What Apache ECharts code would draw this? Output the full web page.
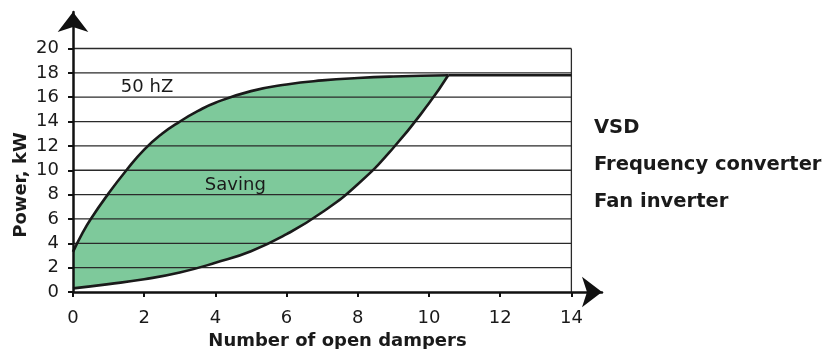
<!DOCTYPE html>
<html>
<head>
<meta charset="utf-8">
<script src="https://cdn.jsdelivr.net/npm/echarts@6/dist/echarts.min.js"></script>
<style>
  html, body { margin: 0; padding: 0; background: #ffffff; }
  #chart { width: 825px; height: 349px; }
</style>
</head>
<body>
<div id="chart"></div>
<script>
// Power drawn by the fan versus number of open dampers
// Fixed-speed (50 Hz) operation: upper curve
const fixedSpeedX = [0, 0.25, 0.5, 1, 1.5, 2, 2.5, 3, 3.5, 4, 5, 6, 7, 8, 9, 10.54];
const fixedSpeedY = [3.3, 4.75, 6.0, 8.1, 10.0, 11.7, 13.0, 14.0, 14.85, 15.55, 16.5, 17.05, 17.38, 17.58, 17.7, 17.8];
// Speed-controlled operation: lower curve
const variableSpeedX = [0, 1, 2, 3, 4, 5, 6, 7, 8, 9, 10, 10.54];
const variableSpeedY = [0.3, 0.65, 1.05, 1.6, 2.4, 3.35, 4.75, 6.55, 8.85, 11.85, 15.5, 17.8];
// Both run at full power once enough dampers are open
const fullPowerX = [10.54, 14];
const fullPowerY = [17.8, 17.8];

const xTicks = [0, 2, 4, 6, 8, 10, 12, 14];
const yTicks = [0, 2, 4, 6, 8, 10, 12, 14, 16, 18, 20];

const noteText = ['50 hZ', 'Saving'];
const noteX = [2.08, 4.56];
const noteY = [16.8, 8.8];

const sideLabels = ['VSD', 'Frequency converter', 'Fan inverter'];

const FONT = 'DejaVu Sans';
const INK = '#1a1a1a';
const GREEN = '#7ec99b';
const SMOOTH = 0.5;

const zip = (xs, ys) => xs.map((x, i) => [x, ys[i]]);
const xEnd = xTicks[xTicks.length - 1];
const yEnd = yTicks[yTicks.length - 1];

const chart = echarts.init(document.getElementById('chart'), null, { renderer: 'canvas' });

const axisCommon = {
  type: 'value',
  min: 0,
  z: 10,
  splitLine: { show: false },
  axisLine: {
    show: true,
    symbol: ['none', 'arrow'],
    symbolSize: [23, 20],
    lineStyle: { color: '#111', width: 2.5 }
  },
  axisTick: { show: true, length: 5, lineStyle: { color: '#111', width: 2 } },
  axisLabel: { fontFamily: FONT, fontSize: 18, color: INK }
};

const curveLine = { color: INK, width: 2.6 };

chart.setOption({
  animation: false,
  backgroundColor: '#ffffff',
  grid: { left: 73, right: 223, top: 12, bottom: 57, outerBoundsMode: 'none', containLabel: false },
  xAxis: Object.assign({}, axisCommon, {
    max: 14.86,
    axisTick: Object.assign({}, axisCommon.axisTick, { customValues: xTicks }),
    axisLabel: Object.assign({}, axisCommon.axisLabel, { customValues: xTicks, margin: 17 }),
    name: 'Number of open dampers',
    nameLocation: 'middle',
    nameGap: 33,
    nameTextStyle: { fontFamily: FONT, fontSize: 18, fontWeight: 'bold', color: INK }
  }),
  yAxis: Object.assign({}, axisCommon, {
    max: 23,
    axisTick: Object.assign({}, axisCommon.axisTick, { customValues: yTicks }),
    axisLabel: Object.assign({}, axisCommon.axisLabel, { customValues: yTicks, margin: 14 })
  }),
  graphic: [
    {
      type: 'text', x: 21, y: 185, rotation: Math.PI / 2,
      style: { text: 'Power, kW', font: 'bold 18px "' + FONT + '"', fill: INK, align: 'center', verticalAlign: 'middle' }
    }
  ].concat(sideLabels.map((t, i) => ({
    type: 'text', x: 594, y: 128 + i * 37,
    style: { text: t, font: 'bold 19.5px "' + FONT + '"', fill: INK, align: 'left', verticalAlign: 'middle' }
  }))),
  series: [
    {
      // saving region: filled under the fixed-speed curve
      type: 'line', z: 1, data: zip(fixedSpeedX, fixedSpeedY),
      smooth: SMOOTH, symbol: 'none',
      lineStyle: { width: 0 }, areaStyle: { color: GREEN, opacity: 1, origin: 'start' }
    },
    {
      // blank out everything under the speed-controlled curve and the full-power run
      type: 'line', z: 1,
      data: zip(variableSpeedX.concat(fullPowerX.slice(1)), variableSpeedY.concat(fullPowerY.slice(1))),
      smooth: false, symbol: 'none',
      lineStyle: { width: 0 }, areaStyle: { color: '#ffffff', opacity: 1, origin: 'start' }
    },
    {
      // horizontal gridlines and top border
      type: 'custom', z: 2, silent: true,
      data: yTicks.slice(1).map(v => [0, v]),
      encode: { x: 0, y: 1 },
      renderItem: function (params, api) {
        const v = api.value(1);
        const a = api.coord([0, v]);
        const b = api.coord([xEnd, v]);
        return { type: 'line', shape: { x1: a[0], y1: a[1], x2: b[0], y2: b[1] },
                 style: { stroke: '#2a2a2a', lineWidth: 1.3 } };
      }
    },
    {
      // right border of the plot frame
      type: 'custom', z: 2, silent: true,
      data: [[xEnd, yEnd]],
      encode: { x: 0, y: 1 },
      renderItem: function (params, api) {
        const a = api.coord([api.value(0), 0]);
        const b = api.coord([api.value(0), api.value(1)]);
        return { type: 'line', shape: { x1: a[0], y1: a[1], x2: b[0], y2: b[1] },
                 style: { stroke: '#2a2a2a', lineWidth: 1.3 } };
      }
    },
    {
      type: 'line', z: 3, data: zip(fixedSpeedX, fixedSpeedY),
      smooth: SMOOTH, symbol: 'none', lineStyle: curveLine
    },
    {
      type: 'line', z: 3, data: zip(variableSpeedX, variableSpeedY),
      smooth: SMOOTH, symbol: 'none', lineStyle: curveLine
    },
    {
      type: 'line', z: 3, data: zip(fullPowerX, fullPowerY),
      symbol: 'none', lineStyle: curveLine
    },
    {
      type: 'scatter', z: 4, symbolSize: 0, silent: true,
      itemStyle: { opacity: 1 },
      data: noteText.map((t, i) => ({ name: t, value: [noteX[i], noteY[i]] })),
      label: {
        show: true, position: 'inside', formatter: '{b}',
        fontFamily: FONT, fontSize: 18, color: INK, opacity: 1
      }
    }
  ]
});
</script>
</body>
</html>
